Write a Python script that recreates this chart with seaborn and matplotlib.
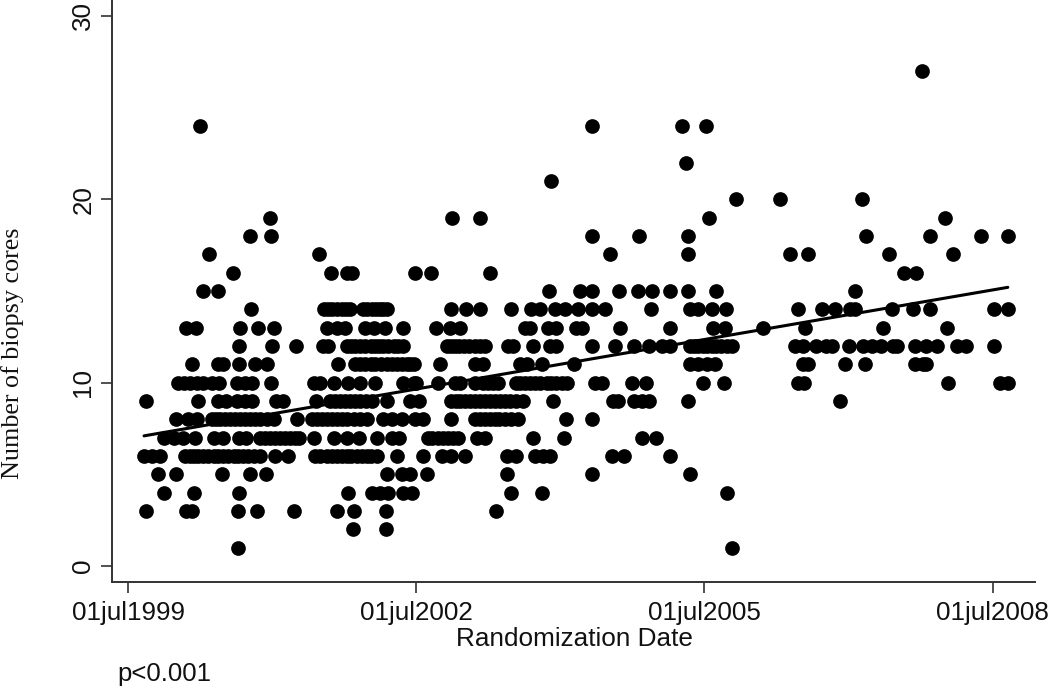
import matplotlib
matplotlib.use("Agg")
import matplotlib.pyplot as plt
import seaborn as sns
import pandas as pd

months_by_cores = {
    27: [99.2],
    24: [9.0, 58, 69.2, 72.2],
    22: [69.7],
    21: [52.8],
    20: [75.9, 81.5, 91.7],
    19: [17.75, 40.5, 44, 72.6, 102.1],
    18: [15.25, 17.85, 58, 63.8, 69.9, 92.2, 100.2, 106.5, 109.9],
    17: [10.1, 23.9, 60.2, 70, 82.7, 84.9, 95, 103],
    16: [13.1, 25.3, 27.3, 28.0, 35.8, 37.8, 45.2, 96.9, 98.4],
    15: [9.4, 11.2, 52.6, 56.5, 57.9, 61.3, 63.7, 65.4, 67.7, 70, 73.4, 90.8],
    14: [15.4, 24.5, 25, 25.5, 26.1, 26.7, 27.2, 27.75, 29.4, 29.9, 30.5, 31, 31.5, 31.9, 32.3,
         40.4, 42.2, 44, 47.9, 50.4, 51.5, 53.3, 54.6, 56.2, 57.9, 59.6, 65.3, 70.2, 71.2, 72.9,
         74.7, 83.7, 86.7, 88.3, 90.2, 90.8, 95.4, 98.1, 100.2, 108.2, 109.9],
    13: [7.3, 8.5, 14, 16.3, 18.25, 24.8, 26.1, 27.1, 29.6, 30.7, 32.1, 34.4, 38.5, 40.2, 41.5,
         49.6, 50.2, 52.5, 53.5, 56, 56.7, 61.4, 67.7, 73.1, 74.6, 79.3, 84.6, 94.3, 102.3],
    12: [13.9, 18, 21, 24.3, 25, 27.3, 27.9, 28.4, 29, 29.6, 30.3, 30.9, 31.4, 31.9, 32.5, 33.2,
         33.7, 34.3, 39.8, 40.3, 40.8, 41.4, 42, 42.6, 43.3, 44, 44.6, 47.5, 48.1, 50.6, 52.7,
         53.5, 58, 60.8, 63.2, 65.1, 66.7, 67.7, 70.2, 70.7, 71.2, 71.8, 72.3, 72.9, 73.5, 74.1,
         74.8, 75.4, 83.3, 84.3, 86, 87.2, 87.9, 90.1, 91.8, 92.9, 94.1, 95.6, 96, 98.3, 99.7,
         101.1, 103.6, 104.7, 108.2],
    11: [8, 11.3, 11.9, 13.9, 15.9, 17.3, 26.2, 28.4, 29, 29.6, 30.3, 30.9, 31.6, 32.3, 33, 33.6,
         34.2, 34.8, 35.2, 35.7, 39, 43.3, 44.4, 49, 49.8, 51.7, 55.7, 70.2, 71.2, 72.3, 73.3,
         84.3, 85, 89.6, 92.1, 98.3, 99.3, 99.7],
    10: [6.2, 7, 7.8, 8.6, 9.4, 10.5, 11.4, 13.6, 14.6, 15.5, 17.8, 23.25, 24, 25.7, 27.5, 29,
         30.9, 34.4, 35.7, 36, 38.7, 40.8, 41.5, 43.3, 44.4, 45, 45.6, 46.2, 48.5, 49, 49.6, 50.2,
         50.8, 51.5, 52.3, 52.9, 53.5, 54.2, 54.8, 58.3, 59.2, 62.9, 64.7, 71.8, 74.5, 83.7, 84.5,
         102.4, 108.9, 109.9],
    9: [2.3, 8.8, 11.3, 12.3, 13.6, 14.6, 15.5, 18.5, 19.3, 23.5, 25.25, 25.9, 26.5, 27.1, 27.75,
        28.4, 29, 29.7, 30.5, 32.3, 35.25, 36.4, 40.4, 41, 41.5, 42.1, 42.7, 43.3, 44, 44.6, 45.2,
        45.8, 46.5, 47.1, 47.7, 48.5, 49.4, 53.1, 60.6, 61.2, 63.2, 64.2, 65.1, 69.9, 89],
    8: [6, 7.5, 8.6, 10.5, 11, 11.5, 12.1, 12.75, 13.4, 14, 14.6, 15.25, 15.9, 16.5, 17.3, 18.2,
        21.1, 23, 23.6, 24.2, 24.8, 25.5, 26.1, 26.7, 27.4, 28.2, 29, 29.8, 31.9, 33, 34.2, 35.8,
        36.9, 40.4, 43.3, 44, 44.6, 45.2, 45.8, 46.4, 47.1, 47.9, 48.7, 54.7, 58],
    7: [4.5, 5.7, 6.9, 8.4, 10.75, 11.9, 13.9, 14.75, 16.5, 17.1, 17.75, 18.4, 19, 19.6, 20.25,
        20.8, 21.3, 23.25, 25.75, 27.3, 28.8, 31.1, 33, 33.8, 37.5, 38, 38.7, 39.3, 40, 40.6,
        41.2, 43.6, 44.6, 50.6, 54.5, 64.2, 66],
    6: [2, 3, 4, 7.1, 7.7, 8.2, 8.8, 9.4, 10, 10.7, 11.3, 11.9, 12.5, 13.2, 13.8, 14.4, 15, 15.7,
        16.5, 18.4, 20, 23.4, 24, 24.8, 25.5, 26.1, 26.7, 27.3, 27.9, 28.6, 29.2, 29.8, 30.4, 31.1,
        33.6, 36.8, 39.2, 40.4, 42.1, 47.3, 48.5, 50.8, 51.9, 52.7, 60.5, 61.9, 67.7],
    5: [3.7, 6, 11.8, 15.25, 17.2, 32.3, 34.2, 35.2, 37.4, 47.3, 58, 70.2],
    4: [4.5, 8.2, 13.9, 27.5, 30.5, 31.5, 32.5, 34.4, 35.5, 47.8, 51.7, 74.8],
    3: [2.3, 7.3, 8, 13.8, 16.1, 20.7, 26.1, 28.2, 32.25, 46],
    2: [28.1, 32.2],
    1: [13.8, 75.5],
}

# fitted line, ends
fit_months = [2.0, 109.9]
fit_cores = [7.1, 15.2]

x_ticks = [0, 36, 72, 108]
x_tick_labels = ["01jul1999", "01jul2002", "01jul2005", "01jul2008"]
y_ticks = [0, 10, 20, 30]

rows = [(m, c) for c, ms in months_by_cores.items() for m in ms]
df = pd.DataFrame(rows, columns=["months", "cores"])

sns.set_style("white")
plt.rcParams["font.family"] = ["Liberation Sans", "DejaVu Sans"]

fig = plt.figure(figsize=(10.5, 6.88), dpi=100)
ax = fig.add_axes([112 / 1050, 1 - 582 / 688, (1035 - 112) / 1050, 582 / 688])

sns.scatterplot(data=df, x="months", y="cores", ax=ax, color="black", s=112, linewidth=0, zorder=2)
sns.lineplot(x=fit_months, y=fit_cores, ax=ax, color="black", linewidth=2.2, zorder=3)

ax.set_xlim(-2, 113.3)
ax.set_ylim(-0.87, 30.87)
ax.set_xticks(x_ticks)
ax.set_xticklabels(x_tick_labels, fontsize=18.7, color="#111111")
ax.set_yticks(y_ticks)
ax.set_yticklabels(y_ticks, fontsize=18.7, color="#111111", rotation=90, va="center")
ax.tick_params(axis="both", length=8, width=1.2, color="#333333", direction="out",
               bottom=True, left=True)
ax.tick_params(axis="y", pad=4)
ax.tick_params(axis="x", pad=6)

sns.despine(ax=ax)
for side in ["left", "bottom"]:
    ax.spines[side].set_color("#333333")
    ax.spines[side].set_linewidth(1.4)

ax.set_xlabel("")
ax.set_ylabel("")
fig.text(574 / 1050, 1 - 639 / 688, "Randomization Date", fontsize=18.8, color="#111111",
         ha="center", va="center")
fig.text(164 / 1050, 1 - 674 / 688, "p<0.001", fontsize=18.5, color="#111111",
         ha="center", va="center")
fig.text(13 / 1050, 1 - 353 / 688, "Number of biopsy cores", fontsize=18.8, color="#111111",
         family=["Liberation Serif", "DejaVu Serif"], rotation=90, ha="center", va="center")

fig.savefig("out.png", dpi=100)
